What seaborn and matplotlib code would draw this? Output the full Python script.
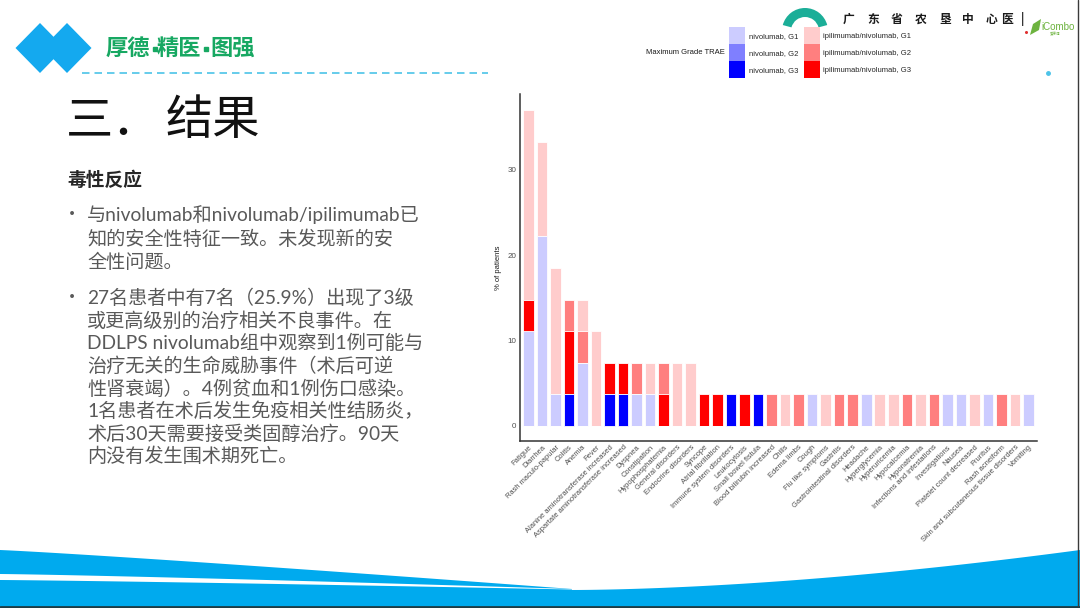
import numpy as np
import pandas as pd
import matplotlib
matplotlib.use("Agg")
import matplotlib.pyplot as plt
from matplotlib.patches import Patch, Polygon, Wedge
import seaborn as sns

# ---------------- data ----------------
categories = ["Fatigue", "Diarrhea", "Rash maculo-papular", "Colitis", "Anemia", "Fever",
              "Alanine aminotransferase increased", "Aspartate aminotransferase increased",
              "Dyspnea", "Constipation", "Hypophosphatemia", "General disorders",
              "Endocrine disorders", "Syncope", "Atrial fibrillation", "Immune system disorders",
              "Leukocytosis", "Small bowel fistula", "Blood bilirubin increased", "Chills",
              "Edema limbs", "Cough", "Flu like symptoms", "Gastritis",
              "Gastrointestinal disorders", "Headache", "Hyperglycemia", "Hyperuricemia",
              "Hypocalcemia", "Hyponatremia", "Infections and infestations", "Investigations",
              "Nausea", "Platelet count decreased", "Pruritus", "Rash acneiform",
              "Skin and subcutaneous tissue disorders", "Vomiting"]

#             0     1     2    3    4    5    6    7    8    9   10   11   12   13   14   15   16   17   18
nivo_g1 = [11.1, 22.2, 3.7, 0.0, 7.4, 0.0, 0.0, 0.0, 3.7, 3.7, 0.0, 0.0, 0.0, 0.0, 0.0, 0.0, 0.0, 0.0, 0.0,
           0.0, 0.0, 3.7, 0.0, 0.0, 0.0, 3.7, 0.0, 0.0, 0.0, 0.0, 0.0, 3.7, 3.7, 0.0, 3.7, 0.0, 0.0, 3.7]
nivo_g2 = [0.0] * 38
nivo_g3 = [0.0, 0.0, 0.0, 3.7, 0.0, 0.0, 3.7, 3.7, 0.0, 0.0, 0.0, 0.0, 0.0, 0.0, 0.0, 3.7, 0.0, 3.7, 0.0,
           0.0, 0.0, 0.0, 0.0, 0.0, 0.0, 0.0, 0.0, 0.0, 0.0, 0.0, 0.0, 0.0, 0.0, 0.0, 0.0, 0.0, 0.0, 0.0]
ipi_g1 = [22.2, 11.1, 14.8, 0.0, 3.7, 11.1, 0.0, 0.0, 0.0, 3.7, 0.0, 7.4, 7.4, 0.0, 0.0, 0.0, 0.0, 0.0, 0.0,
          3.7, 0.0, 0.0, 3.7, 0.0, 0.0, 0.0, 3.7, 3.7, 0.0, 3.7, 0.0, 0.0, 0.0, 3.7, 0.0, 0.0, 3.7, 0.0]
ipi_g2 = [0.0, 0.0, 0.0, 3.7, 3.7, 0.0, 0.0, 0.0, 3.7, 0.0, 3.7, 0.0, 0.0, 0.0, 0.0, 0.0, 0.0, 0.0, 3.7,
          0.0, 3.7, 0.0, 0.0, 3.7, 3.7, 0.0, 0.0, 0.0, 3.7, 0.0, 3.7, 0.0, 0.0, 0.0, 0.0, 3.7, 0.0, 0.0]
ipi_g3 = [3.7, 0.0, 0.0, 7.4, 0.0, 0.0, 3.7, 3.7, 0.0, 0.0, 3.7, 0.0, 0.0, 3.7, 3.7, 0.0, 3.7, 0.0, 0.0,
          0.0, 0.0, 0.0, 0.0, 0.0, 0.0, 0.0, 0.0, 0.0, 0.0, 0.0, 0.0, 0.0, 0.0, 0.0, 0.0, 0.0, 0.0, 0.0]

grade_labels = ["nivolumab, G1", "nivolumab, G2", "nivolumab, G3",
                "ipilimumab/nivolumab, G1", "ipilimumab/nivolumab, G2", "ipilimumab/nivolumab, G3"]
yticks = [0, 10, 20, 30]

bullet1 = ["与nivolumab和nivolumab/ipilimumab已",
           "知的安全性特征一致。未发现新的安",
           "全性问题。"]
bullet2 = ["27名患者中有7名（25.9%）出现了3级",
           "或更高级别的治疗相关不良事件。在",
           "DDLPS nivolumab组中观察到1例可能与",
           "治疗无关的生命威胁事件（术后可逆",
           "性肾衰竭）。4例贫血和1例伤口感染。",
           "1名患者在术后发生免疫相关性结肠炎，",
           "术后30天需要接受类固醇治疗。90天",
           "内没有发生围术期死亡。"]
hospital_chars = ["广", "东", "省", "农", "垦", "中", "心", "医", "|"]

# ---------------- style ----------------
sns.set_style("white")
plt.rcParams["font.family"] = ["Liberation Sans", "DejaVu Sans"]
CJK = ["Noto Sans CJK SC", "DejaVu Sans"]
BODY = ["Lato", "Noto Sans CJK SC", "DejaVu Sans"]

colors = {"nivolumab, G1": "#CCCCFF", "nivolumab, G2": "#7F7FFF", "nivolumab, G3": "#0000FF",
          "ipilimumab/nivolumab, G1": "#FFCCCC", "ipilimumab/nivolumab, G2": "#FF7F7F",
          "ipilimumab/nivolumab, G3": "#FF0000"}

fig = plt.figure(figsize=(10.8, 6.08), dpi=100)

# background (slide) axes in pixel coordinates
bg = fig.add_axes([0, 0, 1, 1])
bg.set_xlim(0, 1080)
bg.set_ylim(608, 0)
bg.axis("off")
bg.set_zorder(0)

blue = "#00AAEE"
# diamonds
for cx in (40, 67):
    bg.add_patch(Polygon([[cx - 24.5, 48], [cx, 23], [cx + 24.5, 48], [cx, 73]],
                         closed=True, fc="#14A9EF", ec="none"))
green = "#17A862"
bg.text(106, 48, "厚德", family=CJK, fontsize=16, fontweight="bold", color=green,
        va="center", ha="left")
bg.text(157, 48, "精医", family=CJK, fontsize=16, fontweight="bold", color=green,
        va="center", ha="left")
bg.text(210, 48, "图强", family=CJK, fontsize=16, fontweight="bold", color=green,
        va="center", ha="left")
bg.plot([154.5, 206], [49, 49], "s", color=green, ms=3.2)
bg.plot([82, 488], [73, 73], color="#4CC3E8", lw=1.2, dashes=(4.5, 3))
bg.plot([1048], [73], "o", color="#4CC3E8", ms=2.5)

# title & body text
bg.text(66, 121, "三．", family=CJK, fontsize=34, fontweight="light",
        color="#111111", va="center", ha="left")
bg.text(166, 121, "结果", family=CJK, fontsize=34, fontweight="light",
        color="#111111", va="center", ha="left")
bg.text(67, 180, "毒性反应", family=CJK, fontsize=13.5, fontweight="bold",
        color="#262626", va="center", ha="left")
body_col = "#595959"
y0 = 215
for i, line in enumerate(bullet1):
    if i == 0:
        bg.text(72, y0, "•", family=CJK, fontsize=13, color=body_col, va="center", ha="center")
    bg.text(87, y0 + i * 23.3, line, family=BODY, fontsize=13.8, color=body_col,
            va="center", ha="left")
y0 = 298
for i, line in enumerate(bullet2):
    if i == 0:
        bg.text(72, y0, "•", family=CJK, fontsize=13, color=body_col, va="center", ha="center")
    bg.text(87, y0 + i * 22.6, line, family=BODY, fontsize=13.8, color=body_col,
            va="center", ha="left")

# top-right logos
bg.add_patch(Wedge((805, 31), 23, 195, 345, width=9, fc="#1BAE98", ec="none"))
xs_h = [849, 873, 897, 921, 945, 968, 991, 1007, 1023]
for xh, ch in zip(xs_h, hospital_chars):
    bg.text(xh, 19, ch, family=CJK, fontsize=8.5, fontweight="bold", color="#1A1A1A",
            va="center", ha="center")
bg.add_patch(Polygon([[1030, 35], [1033, 24], [1041, 19], [1039, 30]], closed=True,
                     fc="#6DB33F", ec="none"))
bg.text(1041, 27, "iCombo", fontsize=7, color="#6DB33F", va="center", ha="left")
bg.text(1050, 34, "爱康博", family=CJK, fontsize=2.5, color="#6DB33F", va="center", ha="left")
bg.plot([1026], [32], "o", color="#E03030", ms=1.2)

# bottom wave
xl = np.linspace(0, 572, 60)
yl = 550 + 39 * (xl / 572) ** 1.1
xr = np.linspace(572, 1080, 60)
yr = 590 - 40 * ((xr - 572) / 508) ** 1.7
wave = np.vstack([np.column_stack([xl, yl]), np.column_stack([xr, yr]),
                  [[1080, 608], [0, 608]]])
bg.add_patch(Polygon(wave, closed=True, fc=blue, ec="none"))
ys_top = 574 + 15 * (xl / 572) ** 1.2
ys_bot = 580 + 9.5 * (xl / 572) ** 1.2
stripe = np.vstack([np.column_stack([xl, ys_top]), np.column_stack([xl[::-1], ys_bot[::-1]])])
bg.add_patch(Polygon(stripe, closed=True, fc="white", ec="none"))
bg.plot([0, 1080], [606.5, 606.5], color="#1E3C44", lw=2)
bg.plot([1077.5, 1077.5], [0, 606], color="#3A3A3A", lw=1)

# ---------------- chart ----------------
L, R, T, B = 520, 1037, 94, 441
ax = fig.add_axes([L / 1080, 1 - B / 608, (R - L) / 1080, (B - T) / 608])
ax.set_zorder(2)
ax.patch.set_alpha(0)

layers = [("nivolumab, G3", nivo_g3), ("nivolumab, G2", nivo_g2), ("nivolumab, G1", nivo_g1),
          ("ipilimumab/nivolumab, G3", ipi_g3), ("ipilimumab/nivolumab, G2", ipi_g2),
          ("ipilimumab/nivolumab, G1", ipi_g1)]
cum = np.zeros(len(categories))
cums = []
for name, vals in layers:
    cum = cum + np.asarray(vals, dtype=float)
    cums.append((name, cum.copy()))
for name, c in reversed(cums):
    df = pd.DataFrame({"AE": categories, "pct": c})
    sns.barplot(data=df, x="AE", y="pct", order=categories, color=colors[name], saturation=1,
                width=0.78, edgecolor="white", linewidth=0.6, errorbar=None, ax=ax)

ax.set_xlim(-0.63, len(categories) - 1 + 0.64)
ax.set_ylim(-1.77, 38.9)
ax.set_yticks(yticks)
ax.set_yticklabels([str(v) for v in yticks])
ax.tick_params(axis="y", length=0, pad=2.5, labelsize=5.8, labelcolor="#4D4D4D")
ax.tick_params(axis="x", length=0, pad=2, labelsize=5.4, labelcolor="#4D4D4D")
ax.set_xticks(range(len(categories)))
ax.set_xticklabels(categories, rotation=45, ha="right", va="top", rotation_mode="anchor")
ax.set_xlabel("")
ax.set_ylabel("% of patients", fontsize=5.5, color="#1A1A1A", labelpad=4)
for s in ("top", "right"):
    ax.spines[s].set_visible(False)
for s in ("left", "bottom"):
    ax.spines[s].set_color("#333333")
    ax.spines[s].set_linewidth(1.1)
ax.grid(False)

# legend
handles = [Patch(fc=colors[g], ec="none") for g in grade_labels]
fig.legend(handles, grade_labels, ncol=2, loc="upper left",
           bbox_to_anchor=(729 / 1080, 1 - 27 / 608), bbox_transform=fig.transFigure,
           frameon=False, fontsize=5.5, handlelength=2.1, handleheight=3.05,
           labelspacing=0, handletextpad=0.5, columnspacing=0.7, borderpad=0,
           borderaxespad=0)
fig.text(725 / 1080, 1 - 52 / 608, "Maximum Grade TRAE", fontsize=5.5, color="#1A1A1A",
         ha="right", va="center")

fig.savefig("out.png", dpi=100, facecolor="white")
